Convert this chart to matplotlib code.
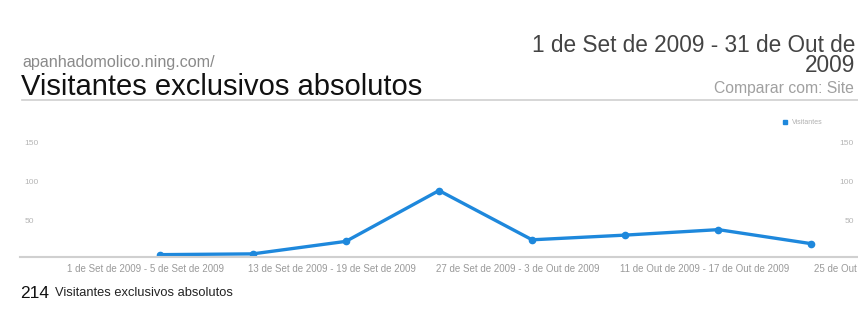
import matplotlib.pyplot as plt
from matplotlib.transforms import ScaledTranslation

plt.rcParams['font.family'] = ['Liberation Sans', 'DejaVu Sans']

weeks = [
    "1 de Set de 2009 - 5 de Set de 2009",
    "6 de Set de 2009 - 12 de Set de 2009",
    "13 de Set de 2009 - 19 de Set de 2009",
    "20 de Set de 2009 - 26 de Set de 2009",
    "27 de Set de 2009 - 3 de Out de 2009",
    "4 de Out de 2009 - 10 de Out de 2009",
    "11 de Out de 2009 - 17 de Out de 2009",
    "18 de Out de 2009 - 24 de Out de 2009",
    "25 de Out de 2009 - 31 de Out de 2009",
]
visitors = [3, 4, 20, 85, 22, 28, 35, 17]
yticks = [50, 100, 150]
total = 214

blue = '#1e88dc'

fig = plt.figure(figsize=(8.58, 3.25), dpi=100)
fig.patch.set_facecolor('white')

# header
fig.text(22 / 858, 1 - 62 / 325, "apanhadomolico.ning.com/", color='#8a8a8a',
         fontsize=11.6, va='center', ha='left')
fig.text(21 / 858, 1 - 87 / 325, "Visitantes exclusivos absolutos", color='#111111',
         fontsize=21, va='center', ha='left')
fig.text(855 / 858, 1 - 45 / 325, "1 de Set de 2009 - 31 de Out de", color='#444444',
         fontsize=16.3, va='center', ha='right')
fig.text(855 / 858, 1 - 66 / 325, "2009", color='#444444',
         fontsize=16.3, va='center', ha='right')
fig.text(854 / 858, 1 - 88 / 325, "Comparar com: Site", color='#a0a0a0',
         fontsize=11.3, va='center', ha='right')
fig.add_artist(plt.Line2D([22 / 858, 1], [1 - 100 / 325] * 2, color='#cfcfcf', lw=1.2))

# chart area
ax = fig.add_axes([20 / 858, 1 - 257 / 325, 838 / 858, 129 / 325])
x = list(range(len(visitors)))
ax.plot(x, visitors, color=blue, lw=2.4, marker='o', ms=4.5, solid_joinstyle='round')
ax.set_xlim(-1.5, 7.5)
ax.set_ylim(0, 165)

for side in ('top', 'left', 'right'):
    ax.spines[side].set_visible(False)
ax.spines['bottom'].set_color('#d0d0d0')
ax.spines['bottom'].set_linewidth(1.5)

ax.set_yticks(yticks)
ax.tick_params(axis='y', length=0, labelsize=6, labelcolor='#b5b5b5',
               left=False, right=False, labelleft=True, labelright=True, pad=-3)
for t in ax.yaxis.get_major_ticks():
    t.label1.set_ha('left')
    t.label1.set_va('top')
    t.label2.set_ha('right')
    t.label2.set_va('top')

ax.set_xticks(x[::2])
ax.set_xticklabels(weeks[:len(visitors)][::2])
ax.tick_params(axis='x', length=0, labelsize=7, labelcolor='#9a9a9a', pad=5)
shift = ScaledTranslation(-14 / 100, 0, fig.dpi_scale_trans)
for lab in ax.get_xticklabels():
    lab.set_transform(lab.get_transform() + shift)
# the last week runs past the right edge of the plot
ax.text(len(weeks) - 1, 0, weeks[-1], fontsize=7, color='#9a9a9a',
        ha='center', va='top', clip_on=False,
        transform=ax.get_xaxis_transform() +
        ScaledTranslation(-6 / 100, -7 / 100, fig.dpi_scale_trans))

# legend
ax.plot([], [], color=blue, marker='s', ls='none', ms=3.5, label='Visitantes')
leg = ax.legend(loc='upper right', bbox_to_anchor=(0.965, 1.115), frameon=False,
                fontsize=5, handletextpad=0.4, handlelength=1)
for t in leg.get_texts():
    t.set_color('#b0b0b0')

# footer
fig.text(20 / 858, 1 - 293 / 325, str(total), color='#111111', fontsize=12.5,
         va='center', ha='left')
fig.text(55 / 858, 1 - 293 / 325, "Visitantes exclusivos absolutos", color='#222222',
         fontsize=9.3, va='center', ha='left')

fig.savefig('out.png', dpi=100, facecolor='white')
